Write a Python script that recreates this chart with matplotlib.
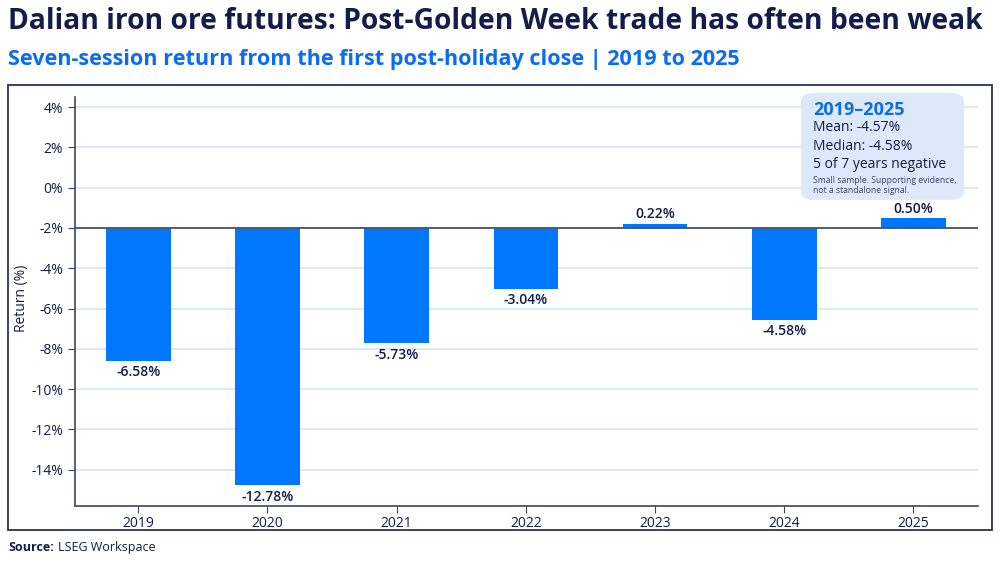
import matplotlib.pyplot as plt
from matplotlib.patches import Rectangle, FancyBboxPatch
import numpy as np

plt.rcParams['font.family'] = ['Open Sans', 'DejaVu Sans']

# data
years = ['2019', '2020', '2021', '2022', '2023', '2024', '2025']
returns = [-6.58, -12.78, -5.73, -3.04, 0.22, -4.58, 0.50]
baseline = -2.0
yticks = [4, 2, 0, -2, -4, -6, -8, -10, -12, -14]

navy = '#131c4a'
blue = '#0077ff'
grid_c = '#dce8f8'

fig = plt.figure(figsize=(10, 5.63), dpi=100)
ax = fig.add_axes([0.075, 0.1012, 0.903, 0.7265])

x = np.arange(len(years))
ax.bar(x, returns, bottom=baseline, width=0.5, color=blue, zorder=3)
ax.axhline(baseline, color='#4a5070', lw=1.3, zorder=4)

for xi, v in zip(x, returns):
    end = baseline + v
    if v < 0:
        ax.annotate(f'{v:.2f}%', (xi, end), xytext=(0, -3), textcoords='offset points',
                    ha='center', va='top', fontsize=10, color=navy, fontweight='semibold')
    else:
        ax.annotate(f'{v:.2f}%', (xi, end), xytext=(0, 1.5), textcoords='offset points',
                    ha='center', va='bottom', fontsize=10, color=navy, fontweight='semibold')

ax.set_xlim(-0.49, 6.5)
ax.set_ylim(-15.8, 4.5)
ax.set_yticks(yticks)
ax.set_yticklabels([f'{t}%' for t in yticks])
ax.set_xticks(x)
ax.set_xticklabels(years)
ax.yaxis.grid(True, color=grid_c, lw=1.5, zorder=0)
ax.set_axisbelow(True)
for s in ['top', 'right']:
    ax.spines[s].set_visible(False)
for s in ['left', 'bottom']:
    ax.spines[s].set_color('#3c4468')
    ax.spines[s].set_linewidth(1.2)
ax.tick_params(colors='#3c4468', labelcolor=navy, labelsize=10, length=5)
ax.tick_params(axis='x', pad=2)
fig.text(0.021, 0.47, 'Return (%)', rotation=90, color=navy, fontsize=10, ha='center', va='center')

# outer frame
fig.patches.append(Rectangle((0.008, 0.0586), 0.984, 0.790, transform=fig.transFigure,
                             fill=False, edgecolor='#2a3360', lw=1.3))

# titles
fig.text(0.008, 0.962, 'Dalian iron ore futures: Post-Golden Week trade has often been weak',
         fontsize=20.3, fontweight='bold', color=navy, va='center', ha='left')
fig.text(0.008, 0.895, 'Seven-session return from the first post-holiday close | 2019 to 2025',
         fontsize=15.6, fontweight='bold', color='#0a6cf0', va='center', ha='left')

# source
src = fig.text(0.008, 0.028, 'Source:', fontsize=9, fontweight='bold', color=navy, va='center')
ax.annotate('LSEG Workspace', xy=(1, 0.5), xycoords=src, xytext=(3, 0),
            textcoords='offset points', fontsize=9, color=navy, va='center', ha='left')

# summary box
box = FancyBboxPatch((0.801, 0.645), 0.163, 0.19, transform=fig.transFigure,
                     boxstyle='round,pad=0,rounding_size=0.014',
                     facecolor='#dde9fb', edgecolor='none', zorder=1)
fig.patches.append(box)
kw = dict(va='center', zorder=10)
fig.text(0.813, 0.805, '2019–2025', fontsize=13, fontweight='bold', color='#0a6cf0', **kw)
fig.text(0.813, 0.773, 'Mean: -4.57%', fontsize=10, color=navy, **kw)
fig.text(0.813, 0.740, 'Median: -4.58%', fontsize=10, color=navy, **kw)
fig.text(0.813, 0.708, '5 of 7 years negative', fontsize=10, color=navy, **kw)
fig.text(0.813, 0.680, 'Small sample. Supporting evidence,', fontsize=6.2, color='#3c4468', **kw)
fig.text(0.813, 0.662, 'not a standalone signal.', fontsize=6.2, color='#3c4468', **kw)

fig.savefig('out.png', dpi=100)
